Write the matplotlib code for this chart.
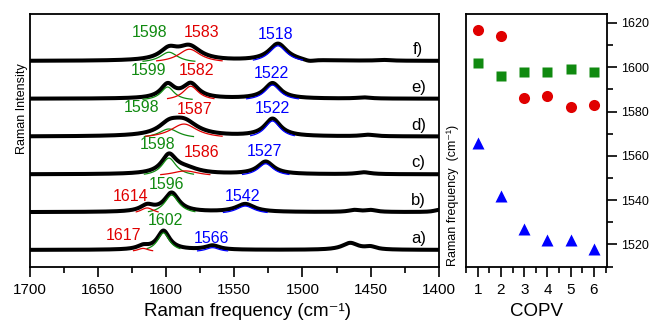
import numpy as np
import matplotlib.pyplot as plt
from matplotlib.ticker import MultipleLocator

plt.rcParams['font.family'] = ['Liberation Sans', 'DejaVu Sans']

trace_names = ['a)', 'b)', 'c)', 'd)', 'e)', 'f)']
copv = [1, 2, 3, 4, 5, 6]

# fitted peak positions (cm-1), also the labels on the spectra
green_pos = [1602, 1596, 1598, 1598, 1599, 1598]
red_pos = [1617, 1614, 1586, 1587, 1582, 1583]
blue_pos = [1566, 1542, 1527, 1522, 1522, 1518]

# peak heights (in units of the trace spacing) and half widths
green_h = [0.50, 0.50, 0.48, 0.25, 0.36, 0.28]
red_h = [0.09, 0.16, 0.14, 0.38, 0.38, 0.36]
blue_h = [0.11, 0.21, 0.33, 0.46, 0.41, 0.45]
green_w = [5.5, 6.5, 6.5, 9, 6, 8]
red_w = [5, 6, 12, 12, 7, 10]
blue_w = [6, 8, 7, 7, 7, 8]
# half span of the drawn component curves
green_span = [12, 17, 18, 18, 18, 19]
red_span = [7, 8, 18, 28, 17, 24]
blue_span = [11, 16, 17, 16, 19, 18]

# small extra bands in each spectrum: (position, height, half width)
extra_bands = [
    [(1465, 0.18, 7), (1450, 0.07, 5)],
    [(1462, 0.05, 5), (1450, 0.05, 5), (1400, 0.06, 4)],
    [(1455, 0.05, 6)],
    [(1452, 0.04, 6)],
    [(1455, 0.03, 6)],
    [(1495, -0.05, 5), (1440, 0.02, 6)],
]

label_x = [(1600.5, 1631.5, 1567), (1600, 1626, 1544), (1606, 1574, 1528),
           (1618, 1579, 1522), (1613, 1578, 1523), (1612, 1574, 1520)]
label_y = [(0.77, 0.37, 0.31), (1.74, 1.41, 1.41), (2.80, 2.57, 2.60),
           (3.78, 3.72, 3.73), (4.74, 4.74, 4.67), (5.75, 5.75, 5.69)]

GREEN = '#108a10'
RED = '#e00000'
BLUE = '#0000ff'


def lorentz(x, x0, h, w):
    return h / (1 + ((x - x0) / w) ** 2)


fig = plt.figure(figsize=(6.51, 3.2), dpi=100)
ax = fig.add_axes([0.046, 0.167, 0.628, 0.789])
ax2 = fig.add_axes([0.716, 0.167, 0.216, 0.789])

x = np.linspace(1700, 1400, 1500)
for i in range(6):
    comps = [(green_pos[i], green_h[i], green_w[i], green_span[i], GREEN),
             (red_pos[i], red_h[i], red_w[i], red_span[i], RED),
             (blue_pos[i], blue_h[i], blue_w[i], blue_span[i], BLUE)]
    y = np.full_like(x, float(i))
    for c, h, w, s, col in comps:
        y += lorentz(x, c, h, w)
    for c, h, w in extra_bands[i]:
        y += lorentz(x, c, h, w)
    ax.plot(x, y, color='black', lw=2.9, zorder=2, solid_capstyle='round')
    for c, h, w, s, col in comps:
        xc = np.linspace(c - s, c + s, 100)
        ax.plot(xc, i - 0.05 + lorentz(xc, c, h, w), color=col, lw=0.9, zorder=3)
    for (lx, ly), val, col in zip(zip(label_x[i], label_y[i]),
                                  [green_pos[i], red_pos[i], blue_pos[i]],
                                  [GREEN, RED, BLUE]):
        ax.text(lx, ly, str(val), color=col, fontsize=11.5, ha='center', va='center')
    ax.text(1415, i + 0.3, trace_names[i], fontsize=12, ha='center', va='center')

ax.set_xlim(1700, 1400)
ax.set_ylim(-0.44, 6.24)
ax.set_yticks([])
ax.xaxis.set_major_locator(MultipleLocator(50))
ax.xaxis.set_minor_locator(MultipleLocator(25))
ax.tick_params(axis='x', which='major', direction='out', length=7, width=1.2,
               labelsize=11, pad=4.5)
ax.tick_params(axis='x', which='minor', direction='out', length=4, width=1.2)
for sp in ax.spines.values():
    sp.set_linewidth(1.3)
fig.text(248 / 651, 1 - 316 / 320, 'Raman frequency (cm\u207b\u00b9)', fontsize=13.5,
         ha='center', va='baseline')
fig.text(0.034, 0.66, 'Raman Intensity', rotation=90, fontsize=9, ha='center', va='center')

ax2.plot(copv, red_pos, 'o', color=RED, ms=8, mec='none')
ax2.plot(copv, green_pos, 's', color=GREEN, ms=7.5, mec='none')
ax2.plot(copv, blue_pos, '^', color=BLUE, ms=9, mec='none')
ax2.set_xlim(0.5, 6.55)
ax2.set_ylim(1510, 1624)
ax2.xaxis.set_major_locator(MultipleLocator(1))
ax2.xaxis.set_minor_locator(MultipleLocator(0.5))
ax2.yaxis.set_major_locator(MultipleLocator(20))
ax2.yaxis.set_minor_locator(MultipleLocator(10))
ax2.yaxis.tick_right()
ax2.tick_params(axis='x', which='major', direction='out', length=7, width=1.2,
                labelsize=11, pad=4.5)
ax2.tick_params(axis='x', which='minor', direction='out', length=4, width=1.2)
ax2.tick_params(axis='y', which='major', direction='out', length=7, width=1.2, labelsize=9)
ax2.tick_params(axis='y', which='minor', direction='out', length=4, width=1.2)
for sp in ax2.spines.values():
    sp.set_linewidth(1.3)
fig.text(536.5 / 651, 1 - 316 / 320, 'COPV', fontsize=13.5, ha='center', va='baseline')
fig.text(0.696, 0.39, 'Raman frequency  (cm\u207b\u00b9)', rotation=90, fontsize=9,
         ha='center', va='center')

fig.savefig('out.png', dpi=100)
